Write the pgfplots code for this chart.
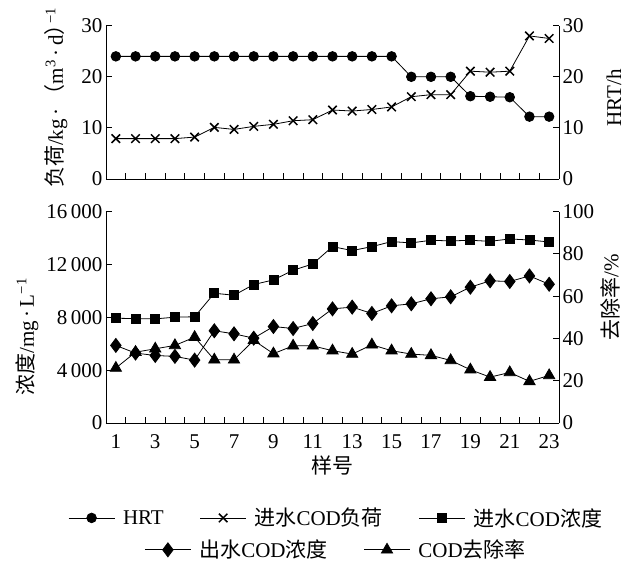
\documentclass[border=0pt]{standalone}
\usepackage{fontspec}
\setmainfont{Liberation Serif}
\newfontfamily\cjk{Noto Sans CJK SC}
\usepackage{pgfplots}
\pgfplotsset{compat=1.18}

\pgfplotsset{
  base/.style={width=453pt, scale only axis, xmin=0.5, xmax=23.5,
    tick align=inside, major tick length=6pt, minor tick length=6pt,
    axis line style={line width=0.8pt},
    every tick/.style={black, line width=0.8pt},
    xtick={1,3,...,23}, minor xtick={1.5,2.5,...,22.5},
    major x tick style={draw=none},
    xticklabel style={yshift=-8pt},
    /pgf/number format/assume math mode=true,
    scaled y ticks=false, clip=false},
  ser/.style={black, line width=0.8pt, mark options={solid}},
  legend image code/.code={\draw[mark repeat=2,mark phase=2,#1] plot coordinates {(0pt,0pt)(23pt,0pt)(46pt,0pt)};},
}

\begin{document}
\begin{tikzpicture}[font=\fontsize{21}{24}\selectfont]
\useasboundingbox (-106pt,-141pt) rectangle (528pt,423pt);

% top panel, left: load
\begin{axis}[base, at={(0,244pt)}, anchor=south west, height=153.3pt,
  ymin=0, ymax=30, ytick={0,10,20,30},
  axis y line*=left, axis x line*=bottom, xticklabels={},
  ylabel={{\cjk 负荷}/kg\,·\,{\cjk （}m\textsuperscript{3}\,·\,d{\cjk ）}\kern-0.45em\textsuperscript{−1}},
  ylabel style={at={(axis description cs:-0.11,0.53)}, anchor=center}]
\addplot[ser, mark=x, mark size=6pt, mark options={line width=1.5pt}] coordinates {
(1,7.9)(2,7.9)(3,7.9)(4,7.9)(5,8.2)(6,10.1)(7,9.7)(8,10.3)(9,10.7)(10,11.4)(11,11.6)(12,13.5)
(13,13.3)(14,13.6)(15,14.1)(16,16.1)(17,16.5)(18,16.5)(19,21.1)(20,20.9)(21,21.1)(22,28.0)(23,27.5)};
\end{axis}

% top panel, right: HRT
\begin{axis}[base, at={(0,244pt)}, anchor=south west, height=153.3pt,
  ymin=0, ymax=30, ytick={0,10,20,30},
  axis y line*=right, axis x line=none]
\addplot[ser, mark=*, mark size=4.8pt] coordinates {
(1,24)(2,24)(3,24)(4,24)(5,24)(6,24)(7,24)(8,24)(9,24)(10,24)(11,24)(12,24)
(13,24)(14,24)(15,24)(16,20)(17,20)(18,20)(19,16.2)(20,16.1)(21,16.0)(22,12.2)(23,12.2)};
\node[rotate=90, anchor=center] at (rel axis cs:1.121,0.53) {HRT/h};
\end{axis}

% bottom panel, left: concentrations
\begin{axis}[base, at={(0,0)}, anchor=south west, height=211.4pt,
  ymin=0, ymax=16000, ytick={0,4000,...,16000},
  /pgf/number format/1000 sep={\,},
  axis y line*=left, axis x line*=bottom,
  xlabel={\cjk 样号},
  xlabel style={at={(axis description cs:0.5,-0.2)}, anchor=center},
  ylabel={{\cjk 浓度}/mg\,·\,L\textsuperscript{−1}},
  ylabel style={at={(axis description cs:-0.174,0.407)}, anchor=center},
  legend columns=3,
  legend style={at={(axis description cs:0.508,-0.449)}, anchor=center, draw=none,
    fill=none, /tikz/every odd column/.append style={column sep=6pt},
    /tikz/every even column/.append style={column sep=34pt}}]
\addlegendimage{ser, mark=*, mark size=4.8pt}
\addlegendentry{HRT}
\addlegendimage{ser, mark=x, mark size=6pt, mark options={line width=1.5pt}}
\addlegendentry{{\cjk 进水}COD{\cjk 负荷}}
\addplot[ser, mark=square*, mark size=4.5pt] coordinates {
(1,7930)(2,7900)(3,7880)(4,8010)(5,8040)(6,9820)(7,9670)(8,10480)(9,10830)(10,11560)(11,12040)(12,13350)
(13,13050)(14,13350)(15,13730)(16,13630)(17,13830)(18,13780)(19,13830)(20,13750)(21,13930)(22,13850)(23,13700)};
\addlegendentry{{\cjk 进水}COD{\cjk 浓度}}
\addplot[ser, mark=diamond*, mark size=7pt, forget plot] coordinates {
(1,5870)(2,5290)(3,5110)(4,5040)(5,4760)(6,6980)(7,6750)(8,6420)(9,7300)(10,7150)(11,7530)(12,8640)
(13,8770)(14,8290)(15,8870)(16,9020)(17,9400)(18,9550)(19,10280)(20,10760)(21,10710)(22,11130)(23,10500)};
\end{axis}

% bottom panel, right: removal rate
\begin{axis}[base, at={(0,0)}, anchor=south west, height=211.4pt,
  ymin=0, ymax=100, ytick={0,20,...,100},
  axis y line*=right, axis x line=none,
  legend columns=2,
  legend style={at={(axis description cs:0.508,-0.60)}, anchor=center, draw=none,
    fill=none, /tikz/every odd column/.append style={column sep=6pt},
    /tikz/every even column/.append style={column sep=34pt}}]
\addlegendimage{ser, mark=diamond*, mark size=7pt}
\addlegendentry{{\cjk 出水}COD{\cjk 浓度}}
\addplot[ser, mark=triangle*, mark size=6.5pt] coordinates {
(1,26.0)(2,33.5)(3,35.1)(4,36.7)(5,40.6)(6,29.9)(7,29.9)(8,39.1)(9,32.8)(10,36.5)(11,36.5)(12,34.2)
(13,32.6)(14,37.0)(15,34.2)(16,32.6)(17,32.0)(18,29.6)(19,25.2)(20,21.7)(21,23.9)(22,19.7)(23,22.5)};
\addlegendentry{COD{\cjk 去除率}}
\node[rotate=90, anchor=center] at (rel axis cs:1.113,0.596) {{\cjk 去除率}/\%};
\end{axis}
\end{tikzpicture}
\end{document}
